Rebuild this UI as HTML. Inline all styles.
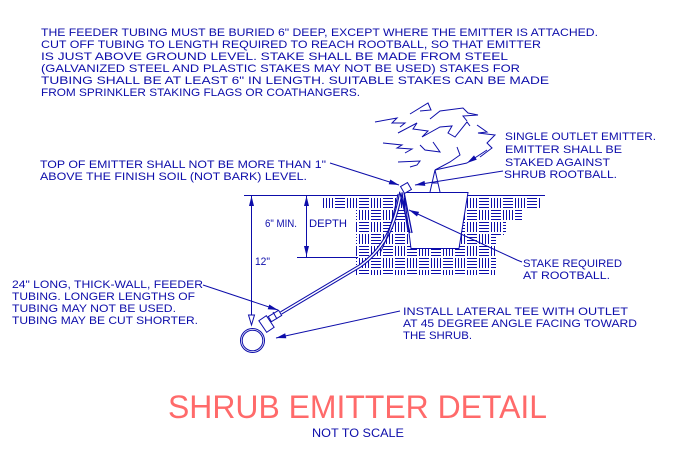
<!DOCTYPE html>
<html><head><meta charset="utf-8"><style>
html,body{margin:0;padding:0;background:#fff;}
svg{display:block;}
text{font-family:"Liberation Sans",sans-serif;fill:#0d0daa;}
</style></head><body>
<svg width="675" height="457" viewBox="0 0 675 457" xmlns="http://www.w3.org/2000/svg">
<defs>
<pattern id="h" x="322" y="197" width="24" height="24" patternUnits="userSpaceOnUse">
<path stroke="#0d0daa" stroke-width="1" fill="none" d="M1.5,1V11M4.5,1V11M7.5,1V11M10.5,1V11M13,1.5H23M13,4.5H23M13,7.5H23M13,10.5H23M1,13.5H11M1,16.5H11M1,19.5H11M1,22.5H11M13.5,13V23M16.5,13V23M19.5,13V23M22.5,13V23"/>
</pattern>
<clipPath id="c"><polygon points="322,197 542,197 542,209 522,209 522,222 506,222 506,235 496,235 496,275 356,275 356,209 322,209"/></clipPath>
</defs>

<rect x="0" y="0" width="675" height="457" fill="#fff"/>

<!-- hatch soil -->
<rect x="300" y="190" width="260" height="90" fill="url(#h)" clip-path="url(#c)"/>

<g stroke="#0d0daa" stroke-width="1" fill="none">
<!-- rootball -->
<polygon points="404,192.5 468,192.5 459,248.5 411,248.5" fill="#fff"/>
<!-- ground lines -->
<path d="M244,195.5H398M468,195.5H545"/>
<!-- dimension lines -->
<path d="M251.5,195V325M306.5,195V257M297,257.5H358"/>
</g>
<g fill="#0d0daa">
<polygon points="251.5,196 249,206 254,206"/>
<polygon points="306.5,196 304,206 309,206"/>
<polygon points="306.5,256 304,246 309,246"/>
</g>
<polygon points="251.5,325 248.5,315 254.5,315" fill="#fff" stroke="#0d0daa" stroke-width="1"/>

<!-- tubing (double line) -->
<path d="M401,192 C395,225 385,248 360,266 L281,313" fill="none" stroke="#0d0daa" stroke-width="3.6"/>
<path d="M401,192 C395,225 385,248 360,266 L281,313" fill="none" stroke="#fff" stroke-width="1.4"/>
<path d="M398,194 C392,222 388,238 380,253" fill="none" stroke="#0d0daa" stroke-width="1"/>

<!-- stake -->
<g stroke="#0d0daa" stroke-width="1.3" fill="none">
<path d="M400,193 L410,233 M404,192 L412,233 M402,193 L408,231"/>
</g>
<!-- emitter -->
<rect x="-4" y="-4" width="8" height="8" transform="translate(406,188) rotate(-30)" fill="#fff" stroke="#0d0daa" stroke-width="1"/>

<!-- tree -->
<g stroke="#0d0daa" stroke-width="1" fill="none" stroke-linejoin="miter">
<polyline points="375,122 397,118 392,123 405,123 400,127"/>
<polyline points="410,114 428,103 431,110 420,111"/>
<polyline points="430,119 440,111 463,108 468,113 478,115 463,116 467,121"/>
<polyline points="398,133 417,123 413,129 428,131 422,137 440,127 452,126 448,133 455,137 467,122 470,126"/>
<polyline points="477,125 487,132 478,133 495,135 487,143 492,148 480,157"/>
<polyline points="383,143 402,145 397,148 412,149 405,153"/>
<polyline points="420,145 425,150 440,152 433,142"/>
<polyline points="398,162 420,161 417,165 410,167"/>
<polyline points="457,147 460,155 450,162 435,170"/>
<polyline points="430,192 435,170 440,192"/>
<path d="M432,183H438M435,170L467,163M467,163L487,150"/>
</g>

<!-- leaders -->
<g stroke="#0d0daa" stroke-width="1" fill="none">
<path d="M203,285 L278,310"/>
<path d="M400,311 L276,338"/>
<path d="M522,262 L517,260 L409,210"/>
<path d="M330,163 L399,185"/>
<path d="M503,171 L415,185"/>
</g>
<g fill="#0d0daa">
<polygon points="278,310 267.7,309.2 269.3,304.5"/>
<polygon points="276,338 285.2,333.3 286.3,338.2"/>
<polygon points="409,210 419.1,211.9 417,216.5"/>
<polygon points="399,185 388.7,184.3 390.3,179.5"/>
<polygon points="415,185 424.5,180.9 425.3,185.9"/>
<polygon points="467,163 474,155.4 476.8,159.6"/>
</g>

<!-- pipe & fittings -->
<g stroke="#0d0daa" stroke-width="1" fill="#fff">
<rect x="-7" y="-4.5" width="14" height="9" transform="translate(266.5,324) rotate(56)"/>
<circle cx="252.5" cy="340.5" r="12"/>
<circle cx="252.5" cy="340.5" r="10.3"/>
<rect x="-6" y="-3" width="12" height="6" transform="translate(275,316) rotate(-31)"/>
<path d="M273,312 L277,319" fill="none"/>
</g>

<!-- top notes -->
<text x="41" y="36" font-size="11" textLength="557" lengthAdjust="spacingAndGlyphs">THE FEEDER TUBING MUST BE BURIED 6" DEEP, EXCEPT WHERE THE EMITTER IS ATTACHED.</text>
<text x="41" y="48" font-size="11" textLength="500" lengthAdjust="spacingAndGlyphs">CUT OFF TUBING TO LENGTH REQUIRED TO REACH ROOTBALL, SO THAT EMITTER</text>
<text x="41" y="60" font-size="11" textLength="467" lengthAdjust="spacingAndGlyphs">IS JUST ABOVE GROUND LEVEL.  STAKE SHALL BE MADE FROM STEEL</text>
<text x="41" y="72" font-size="11" textLength="479" lengthAdjust="spacingAndGlyphs">(GALVANIZED STEEL AND PLASTIC STAKES MAY NOT BE USED)  STAKES FOR</text>
<text x="41" y="84" font-size="11" textLength="508" lengthAdjust="spacingAndGlyphs">TUBING SHALL BE AT LEAST 6" IN LENGTH.  SUITABLE STAKES CAN BE MADE</text>
<text x="41" y="96" font-size="11" textLength="319" lengthAdjust="spacingAndGlyphs">FROM SPRINKLER STAKING FLAGS OR COATHANGERS.</text>

<text x="40" y="168" font-size="11" textLength="286" lengthAdjust="spacingAndGlyphs">TOP OF EMITTER SHALL NOT BE MORE THAN 1"</text>
<text x="40" y="180" font-size="11" textLength="267" lengthAdjust="spacingAndGlyphs">ABOVE THE FINISH SOIL (NOT BARK) LEVEL.</text>

<text x="505" y="140" font-size="11" textLength="151" lengthAdjust="spacingAndGlyphs">SINGLE OUTLET EMITTER.</text>
<text x="505" y="153" font-size="11" textLength="117" lengthAdjust="spacingAndGlyphs">EMITTER SHALL BE</text>
<text x="505" y="166" font-size="11" textLength="105" lengthAdjust="spacingAndGlyphs">STAKED AGAINST</text>
<text x="504" y="178" font-size="11" textLength="113" lengthAdjust="spacingAndGlyphs">SHRUB ROOTBALL.</text>

<text x="265" y="227" font-size="11" textLength="32" lengthAdjust="spacingAndGlyphs">6" MIN.</text>
<text x="309" y="227" font-size="11" textLength="38" lengthAdjust="spacingAndGlyphs">DEPTH</text>
<text x="255" y="265" font-size="11" textLength="15" lengthAdjust="spacingAndGlyphs">12"</text>

<text x="523" y="267" font-size="11" textLength="99" lengthAdjust="spacingAndGlyphs">STAKE REQUIRED</text>
<text x="523" y="279" font-size="11" textLength="87" lengthAdjust="spacingAndGlyphs">AT ROOTBALL.</text>

<text x="12" y="288" font-size="11" textLength="191" lengthAdjust="spacingAndGlyphs">24" LONG, THICK-WALL, FEEDER</text>
<text x="12" y="300" font-size="11" textLength="183" lengthAdjust="spacingAndGlyphs">TUBING.  LONGER LENGTHS OF</text>
<text x="12" y="312" font-size="11" textLength="164" lengthAdjust="spacingAndGlyphs">TUBING MAY NOT BE USED.</text>
<text x="12" y="324" font-size="11" textLength="186" lengthAdjust="spacingAndGlyphs">TUBING MAY BE CUT SHORTER.</text>

<text x="403" y="315" font-size="11" textLength="225" lengthAdjust="spacingAndGlyphs">INSTALL LATERAL TEE WITH OUTLET</text>
<text x="403" y="327" font-size="11" textLength="234" lengthAdjust="spacingAndGlyphs">AT 45 DEGREE ANGLE FACING TOWARD</text>
<text x="403" y="339" font-size="11" textLength="69" lengthAdjust="spacingAndGlyphs">THE SHRUB.</text>

<!-- title -->
<text x="168" y="418" font-size="32" textLength="379" lengthAdjust="spacingAndGlyphs" style="fill:#ff6a6a">SHRUB EMITTER DETAIL</text>
<text x="312" y="437" font-size="12" textLength="92" lengthAdjust="spacingAndGlyphs">NOT TO SCALE</text>
</svg>
</body></html>
